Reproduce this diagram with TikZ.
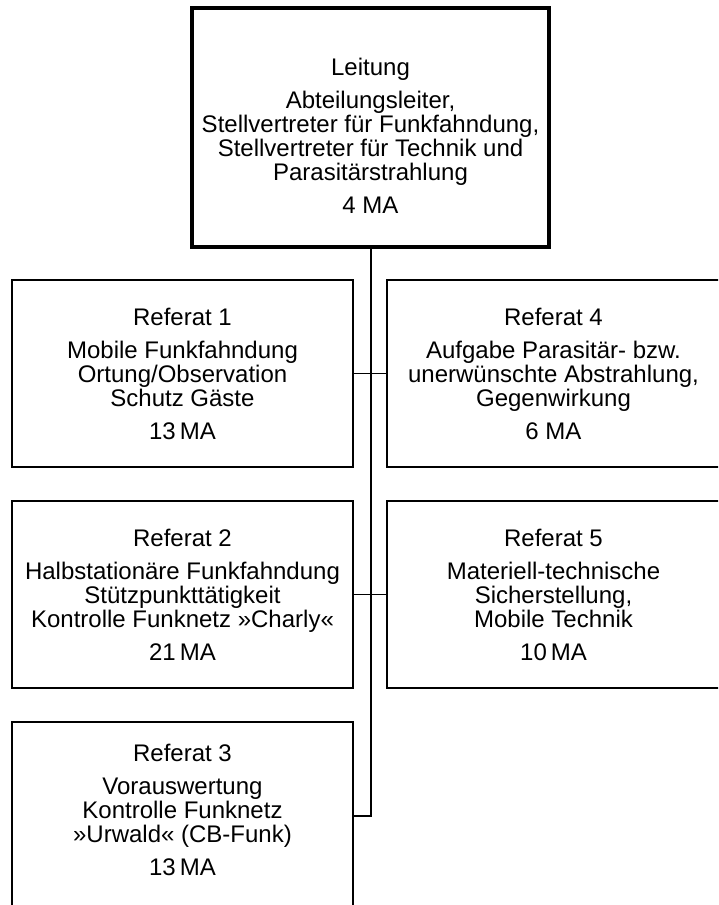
\documentclass[tikz,border=0pt]{standalone}
\usepackage{fontspec}
\setmainfont{Liberation Sans}
\begin{document}
\begin{tikzpicture}[x=1pt,y=-1pt,
  txt/.style={align=center,font=\fontsize{24pt}{24pt}\selectfont,inner sep=0pt},
  leadbox/.style={draw,line width=4pt,minimum width=357pt,minimum height=239pt,outer sep=0pt,inner sep=0pt},
  unitbox/.style={draw,line width=1.3pt,minimum width=341pt,minimum height=187pt,outer sep=0pt,inner sep=0pt},
  trunk/.style={line width=2pt},
  branch/.style={line width=1.2pt}]
  \useasboundingbox (0,0) rectangle (718,905);
  \clip (0,0) rectangle (718,905);

  % department head
  \node[leadbox] (lead) at (370.5,127.5) {};
  \node[txt] (leadtext) at (370.5,136) {Leitung\\[9pt]
    Abteilungsleiter,\\ Stellvertreter für Funkfahndung,\\
    Stellvertreter für Technik und\\ Parasitärstrahlung\\[9pt] 4 MA};

  % sections, left column
  \node[unitbox] (r1) at (182.5,373.5) {};
  \node[txt] (r1t) at (r1) {Referat 1\\[9pt] Mobile Funkfahndung\\
    Ortung/Observation\\ Schutz Gäste\\[9pt] 13\,MA};
  \node[unitbox] (r2) at (182.5,594.5) {};
  \node[txt] (r2t) at (r2) {Referat 2\\[9pt] Halbstationäre Funkfahndung\\
    Stützpunkttätigkeit\\ Kontrolle Funknetz »Charly«\\[9pt] 21\,MA};
  \node[unitbox] (r3) at (182.5,815.5) {};
  \node[txt] (r3t) at (182.5,810) {Referat 3\\[9pt] Vorauswertung\\
    Kontrolle Funknetz\\ »Urwald« (CB-Funk)\\[9pt] 13\,MA};

  % sections, right column
  \node[unitbox,minimum width=333pt] (r4) at (553.5,373.5) {};
  \node[txt] (r4t) at (r4) {Referat 4\\[9pt] Aufgabe Parasitär- bzw.\\
    unerwünschte Abstrahlung,\\ Gegenwirkung\\[9pt] 6 MA};
  \node[unitbox,minimum width=333pt] (r5) at (553.5,594.5) {};
  \node[txt] (r5t) at (r5) {Referat 5\\[9pt] Materiell-technische\\
    Sicherstellung,\\ Mobile Technik\\[9pt] 10\,MA};

  % connectors
  \draw[trunk] (lead.south) |- (r3.east);
  \draw[branch] (r1.east) -- (r4.west);
  \draw[branch] (r2.east) -- (r5.west);
\end{tikzpicture}
\end{document}
